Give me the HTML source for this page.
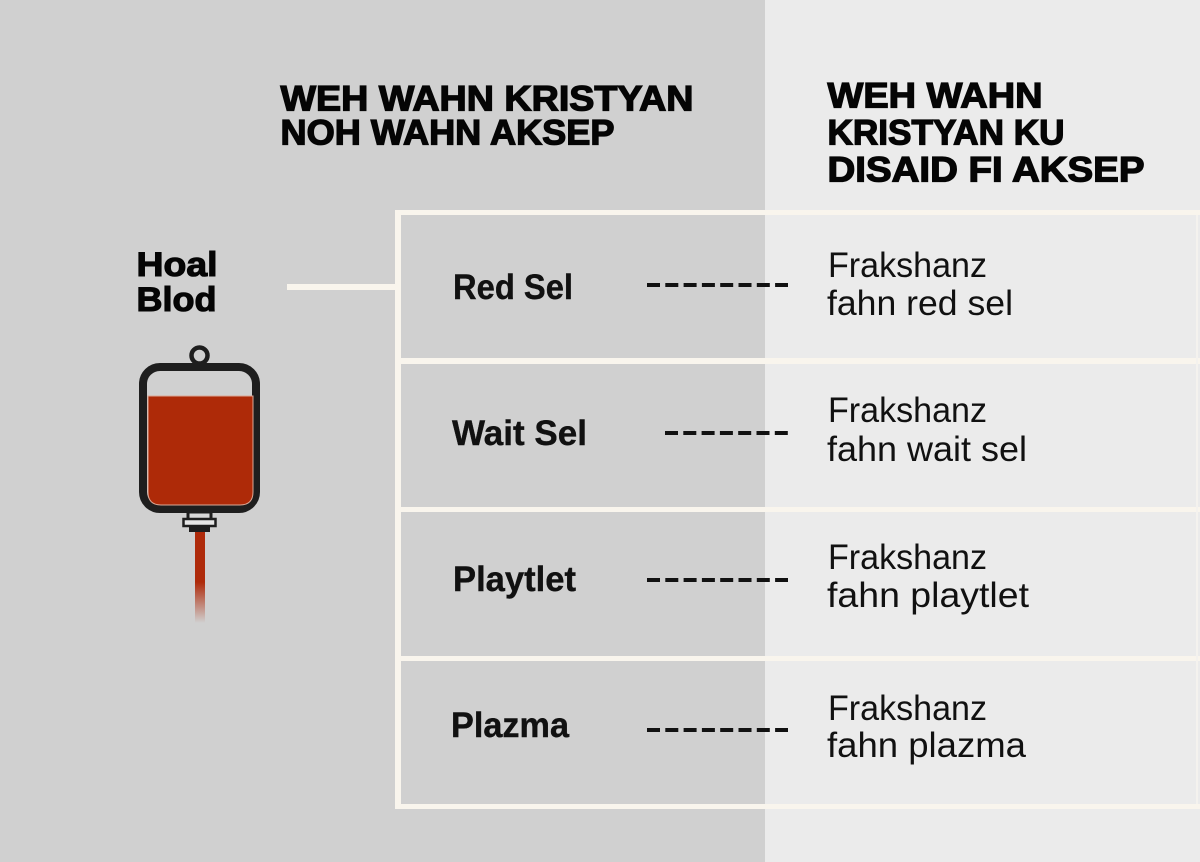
<!DOCTYPE html>
<html>
<head>
<meta charset="utf-8">
<style>
  html, body { margin: 0; padding: 0; }
  body { width: 1200px; height: 862px; overflow: hidden; background: #d0d0d0; }
  svg { display: block; }
  .h { font-family: "Liberation Sans", sans-serif; font-weight: bold; font-size: 35px; fill: #050505; stroke: #050505; stroke-width: 1.3px; }
  .lb { font-family: "Liberation Sans", sans-serif; font-weight: bold; font-size: 35px; fill: #111; stroke: #111; stroke-width: 0.4px; }
  .hb { font-family: "Liberation Sans", sans-serif; font-weight: bold; font-size: 34px; fill: #050505; stroke: #050505; stroke-width: 1.1px; }
  .rt { font-family: "Liberation Sans", sans-serif; font-weight: normal; font-size: 35px; fill: #111; }
</style>
</head>
<body>
<svg width="1200" height="862" viewBox="0 0 1200 862" xmlns="http://www.w3.org/2000/svg">
  <defs>
    <linearGradient id="tube" x1="0" y1="0" x2="0" y2="1">
      <stop offset="0" stop-color="#ae2a0a"/>
      <stop offset="0.55" stop-color="#ae2a0a"/>
      <stop offset="1" stop-color="#d0d0d0"/>
    </linearGradient>
  </defs>

  <!-- backgrounds -->
  <rect x="0" y="0" width="765" height="862" fill="#d0d0d0"/>
  <rect x="765" y="0" width="435" height="862" fill="#ebebeb"/>

  <!-- headings -->
  <text class="h" x="280.5" y="110.5" textLength="413" lengthAdjust="spacingAndGlyphs">WEH WAHN KRISTYAN</text>
  <text class="h" x="280.5" y="144.5" textLength="334" lengthAdjust="spacingAndGlyphs">NOH WAHN AKSEP</text>

  <text class="h" x="827.5" y="107.5" textLength="215" lengthAdjust="spacingAndGlyphs">WEH WAHN</text>
  <text class="h" x="827.5" y="144.5" textLength="237" lengthAdjust="spacingAndGlyphs">KRISTYAN KU</text>
  <text class="h" x="827.5" y="181.5" textLength="317" lengthAdjust="spacingAndGlyphs">DISAID FI AKSEP</text>

  <!-- table lines -->
  <g fill="#f9f5ed">
    <rect x="395" y="210" width="805" height="5"/>
    <rect x="395" y="210" width="6" height="599"/>
    <rect x="395" y="358" width="805" height="6"/>
    <rect x="395" y="507" width="805" height="5"/>
    <rect x="395" y="656" width="805" height="5"/>
    <rect x="395" y="804" width="805" height="5"/>
    <rect x="287" y="284" width="110" height="6"/>
  </g>
  <rect x="1196" y="215" width="2" height="589" fill="#f4f2ee"/>

  <!-- Hoal Blod -->
  <text class="hb" x="136.5" y="276" textLength="81" lengthAdjust="spacingAndGlyphs">Hoal</text>
  <text class="hb" x="136.5" y="311" textLength="80" lengthAdjust="spacingAndGlyphs">Blod</text>

  <!-- blood bag -->
  <circle cx="199.5" cy="355.5" r="8" fill="#d0d0d0" stroke="#1e1e1e" stroke-width="4.5"/>
  <rect x="143" y="367" width="113" height="142" rx="17" ry="17" fill="#d0d0d0" stroke="#1e1e1e" stroke-width="8"/>
  <path d="M148 396 H253 V492 Q253 505 240 505 H161 Q148 505 148 492 Z" fill="#ae2a08" stroke="#dba896" stroke-width="1"/>
  <rect x="188" y="512" width="23" height="8" fill="#d8d8d8" stroke="#1e1e1e" stroke-width="3"/>
  <rect x="183.5" y="519" width="32" height="7" fill="#e6e6e6" stroke="#1e1e1e" stroke-width="2.5"/>
  <rect x="189" y="526" width="21" height="6" fill="#1e1e1e"/>
  <rect x="195" y="532" width="10" height="91" fill="url(#tube)"/>

  <!-- row labels -->
  <text class="lb" x="453" y="299" textLength="120" lengthAdjust="spacingAndGlyphs">Red Sel</text>
  <text class="lb" x="452" y="445" textLength="135" lengthAdjust="spacingAndGlyphs">Wait Sel</text>
  <text class="lb" x="453" y="591" textLength="123" lengthAdjust="spacingAndGlyphs">Playtlet</text>
  <text class="lb" x="451" y="737" textLength="118" lengthAdjust="spacingAndGlyphs">Plazma</text>

  <!-- dashed connectors -->
  <g stroke="#111" stroke-width="4" stroke-dasharray="13 5.3" fill="none">
    <line x1="647" y1="285" x2="788" y2="285"/>
    <line x1="665" y1="433" x2="788" y2="433"/>
    <line x1="647" y1="580" x2="788" y2="580"/>
    <line x1="647" y1="730" x2="788" y2="730"/>
  </g>

  <!-- right texts -->
  <text class="rt" x="828" y="277" textLength="159" lengthAdjust="spacingAndGlyphs">Frakshanz</text>
  <text class="rt" x="827" y="315" textLength="186" lengthAdjust="spacingAndGlyphs">fahn red sel</text>

  <text class="rt" x="828" y="422" textLength="159" lengthAdjust="spacingAndGlyphs">Frakshanz</text>
  <text class="rt" x="827" y="461" textLength="200" lengthAdjust="spacingAndGlyphs">fahn wait sel</text>

  <text class="rt" x="828" y="569" textLength="159" lengthAdjust="spacingAndGlyphs">Frakshanz</text>
  <text class="rt" x="827" y="607" textLength="202" lengthAdjust="spacingAndGlyphs">fahn playtlet</text>

  <text class="rt" x="828" y="720" textLength="159" lengthAdjust="spacingAndGlyphs">Frakshanz</text>
  <text class="rt" x="827" y="757" textLength="199" lengthAdjust="spacingAndGlyphs">fahn plazma</text>
</svg>
</body>
</html>
